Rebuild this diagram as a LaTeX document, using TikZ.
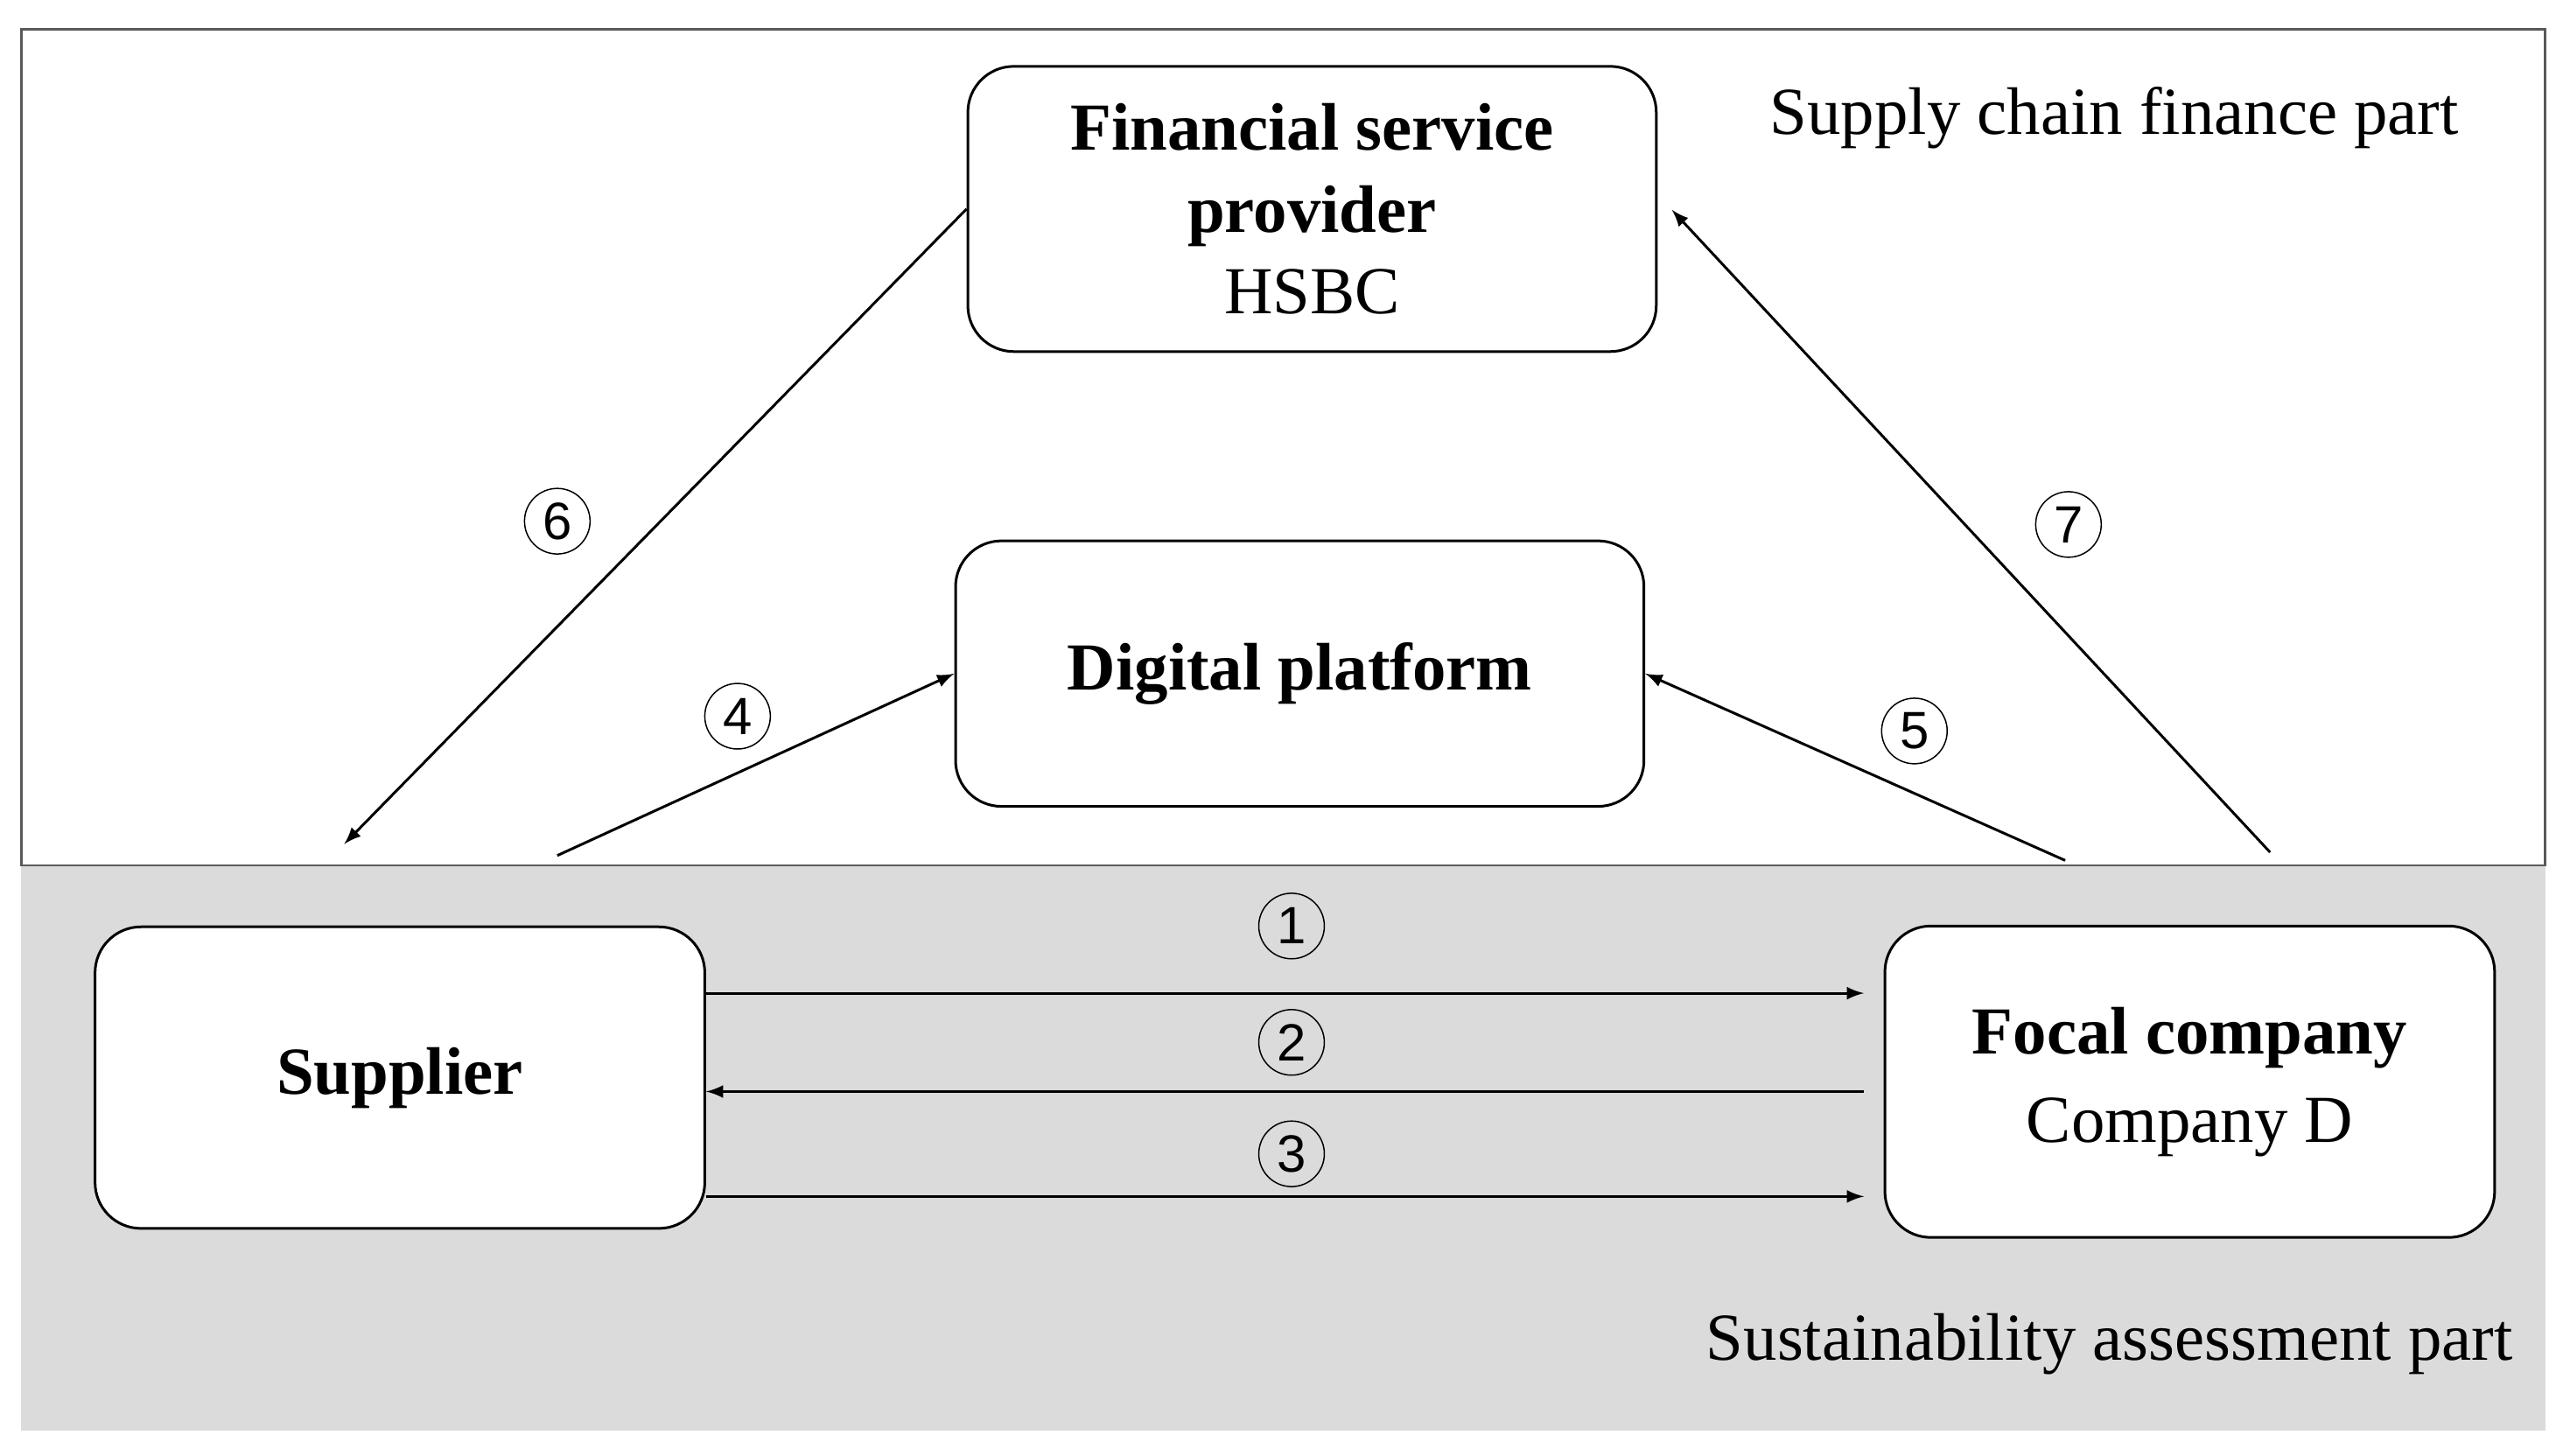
\documentclass[tikz,border=0pt]{standalone}
\usepackage{fontspec}
\setmainfont{Liberation Serif}
\newfontfamily\numfont{Liberation Sans}
\begin{document}
\begin{tikzpicture}[x=0.5pt,y=-0.5pt,
  box/.style={draw,thick,rounded corners=14pt,align=center,font=\fontsize{20.5}{25}\selectfont,inner sep=0pt},
  num/.style={draw,circle,thin,minimum size=20pt,inner sep=0pt,font=\numfont\fontsize{16}{16}\selectfont},
  arr/.style={-latex,thick},
  lbl/.style={font=\fontsize{20.5}{25}\selectfont}]
\useasboundingbox (0,0) rectangle (1568,888);
\fill[white] (0,0) rectangle (1568,888);
\fill[gray!28] (13,528) rectangle (1553,873);
\draw[thick,gray!70!black] (13,18) rectangle (1553,528);
\node[box,fill=white,minimum width=210pt,minimum height=87pt] (fsp) at (800.5,127.5) {\textbf{Financial service}\\\textbf{provider}\\HSBC};
\node[box,fill=white,minimum width=210pt,minimum height=81pt] (dp) at (793,411) {\textbf{Digital platform}};
\node[box,fill=white,minimum width=186pt,minimum height=92pt] (sup) at (244,657.5) {\textbf{Supplier}};
\node[box,fill=white,minimum width=186pt,minimum height=95pt] (foc) at (1336,660) {\textbf{Focal company}\\[2pt]Company D};
\node[lbl] (t1) at (1290,72) {Supply chain finance part};
\node[lbl] (t2) at (1287,820) {Sustainability assessment part};
\coordinate (s6) at (210,515);
\coordinate (s4) at (340,522);
\coordinate (f5) at (1260,525);
\coordinate (f7) at (1385,520);
\draw[arr] (fsp.west) -- (s6);
\draw[arr] (f7) -- (1020,128);
\draw[arr] (s4) -- (dp.west);
\draw[arr] (f5) -- (dp.east);
\draw[arr,shorten >=6pt] (sup.east |- 0,606) -- (foc.west |- 0,606);
\draw[arr,shorten <=6pt] (foc.west |- 0,666) -- (sup.east |- 0,666);
\draw[arr,shorten >=6pt] (sup.east |- 0,730) -- (foc.west |- 0,730);
\node[num] (n6) at (340,318) {6};
\node[num] (n7) at (1262,320) {7};
\node[num] (n4) at (450,437) {4};
\node[num] (n5) at (1168,446) {5};
\node[num] (n1) at (788,565) {1};
\node[num] (n2) at (788,636) {2};
\node[num] (n3) at (788,704) {3};
\end{tikzpicture}
\end{document}
